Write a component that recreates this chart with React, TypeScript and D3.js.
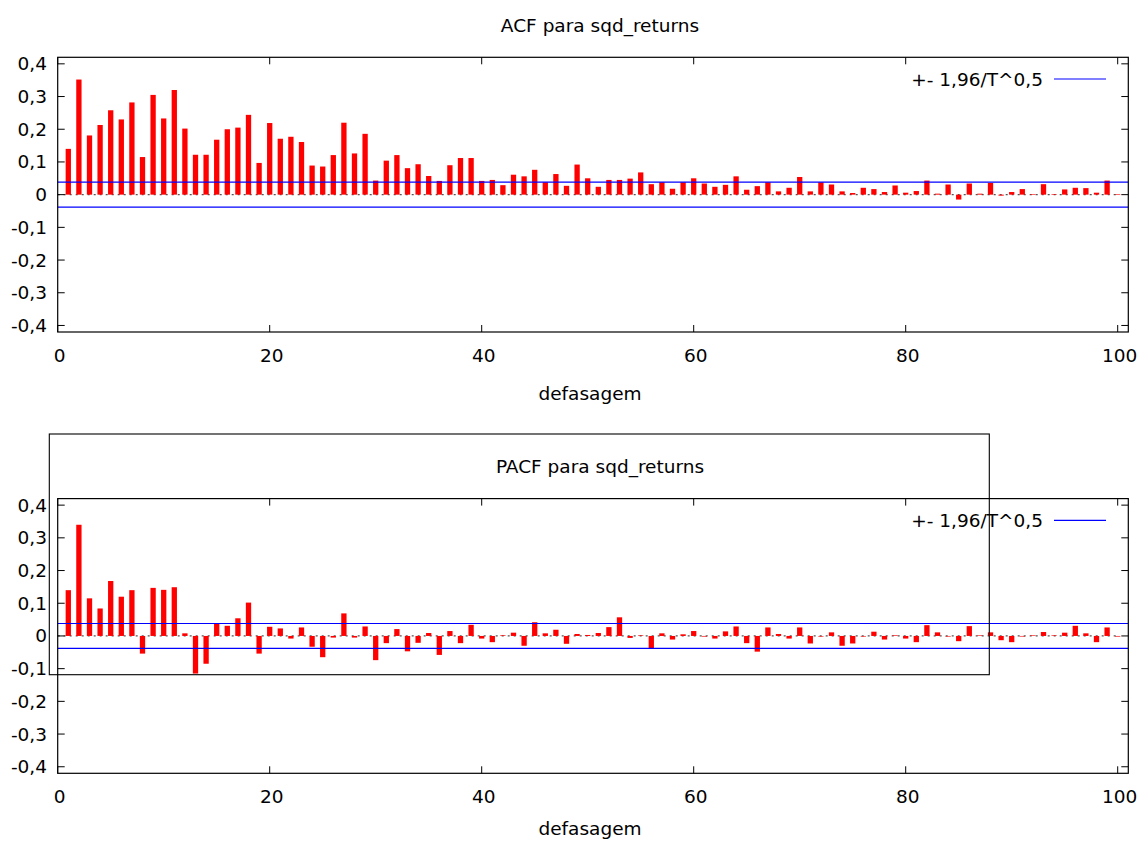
import React from "react";
import * as d3 from "d3";

const lags: number[] = d3.range(1, 101);

const acfValues: number[] = [
  0.140, 0.352, 0.181, 0.213, 0.258, 0.230, 0.282, 0.115, 0.305, 0.233,
  0.320, 0.202, 0.122, 0.122, 0.168, 0.200, 0.205, 0.244, 0.097, 0.219,
  0.171, 0.177, 0.161, 0.089, 0.086, 0.121, 0.220, 0.126, 0.186, 0.043,
  0.104, 0.121, 0.081, 0.093, 0.057, 0.042, 0.090, 0.112, 0.112, 0.042,
  0.045, 0.029, 0.061, 0.056, 0.076, 0.038, 0.063, 0.027, 0.092, 0.050,
  0.024, 0.045, 0.045, 0.049, 0.068, 0.032, 0.038, 0.018, 0.038, 0.050,
  0.034, 0.024, 0.030, 0.056, 0.015, 0.026, 0.038, 0.010, 0.021, 0.054,
  0.010, 0.038, 0.031, 0.010, 0.005, 0.021, 0.017, 0.008, 0.028, 0.006,
  0.011, 0.043, 0.003, 0.031, -0.015, 0.034, 0.003, 0.036, -0.003, 0.008,
  0.017, 0.001, 0.032, 0.001, 0.016, 0.021, 0.020, 0.006, 0.043, 0.001,
];

const pacfValues: number[] = [
  0.140, 0.340, 0.115, 0.084, 0.168, 0.120, 0.140, -0.054, 0.147, 0.141,
  0.149, 0.008, -0.115, -0.085, 0.038, 0.031, 0.054, 0.102, -0.054, 0.028,
  0.023, -0.008, 0.026, -0.033, -0.065, -0.005, 0.069, -0.005, 0.029, -0.074,
  -0.022, 0.021, -0.047, -0.021, 0.009, -0.058, 0.015, -0.022, 0.034, -0.008,
  -0.019, 0.002, 0.010, -0.030, 0.042, 0.008, 0.019, -0.024, 0.006, 0.003,
  0.009, 0.027, 0.057, -0.006, 0.001, -0.037, 0.008, -0.011, 0.005, 0.015,
  -0.002, -0.008, 0.014, 0.029, -0.022, -0.048, 0.026, 0.006, -0.008, 0.026,
  -0.023, -0.001, 0.011, -0.030, -0.023, -0.001, 0.013, -0.011, 0.002, -0.008,
  -0.019, 0.033, 0.011, -0.001, -0.016, 0.030, 0.000, 0.011, -0.013, -0.019,
  -0.001, 0.001, 0.012, 0.000, 0.010, 0.031, 0.008, -0.019, 0.026, -0.002,
];

const yTicks: number[] = [-0.4, -0.3, -0.2, -0.1, 0, 0.1, 0.2, 0.3, 0.4];
const xTicks: number[] = [0, 20, 40, 60, 80, 100];
const bandValue = 0.038;
const legendLabel = "+- 1,96/T^0,5";
const xLabel = "defasagem";
const titles = ["ACF para sqd_returns", "PACF para sqd_returns"];

const W = 1142;
const H = 843;
const FONT = "'DejaVu Sans', Verdana, sans-serif";
const FS = 18.5;

const fmt = (v: number) => {
  if (Math.abs(v) < 1e-9) return "0";
  return d3.format(".1f")(v).replace(".", ",").replace("−", "-");
};

function Panel({ values, top, title, xLabelOffset }: { values: number[]; top: number; title: string; xLabelOffset: number }) {
  const left = 57.7;
  const right = 1128.3;
  const plotTop = top;
  const plotBottom = top + 274.7;
  const x = d3.scaleLinear().domain([0, 101]).range([left, right]);
  const y = d3.scaleLinear().domain([-0.42, 0.42]).range([plotBottom, plotTop]);
  const barW = x(0.5) - x(0);
  const tickLen = 7;
  const legendY = plotTop + 21.7;
  return (
    <g>
      <text x={600} y={plotTop - 32} textAnchor="middle" dominantBaseline="central" fontSize={FS} fill="#000">
        {title}
      </text>
      {/* zero dotted line */}
      <line x1={x(0)} x2={x(100)} y1={y(0)} y2={y(0)} stroke="#555" strokeWidth={1.2} strokeDasharray="2,4" />
      {/* bars */}
      {lags.map((lag, i) => {
        const v = values[i];
        const yTop = y(Math.max(0, v));
        const yBot = y(Math.min(0, v));
        const h = Math.max(yBot - yTop, 0.6);
        return <rect key={lag} x={x(lag) - barW / 2} y={v >= 0 ? yBot - h : yTop} width={barW} height={h} fill="#ff0000" />;
      })}
      {/* confidence band */}
      <line x1={left} x2={right} y1={y(bandValue)} y2={y(bandValue)} stroke="#0000ff" strokeWidth={1.2} />
      <line x1={left} x2={right} y1={y(-bandValue)} y2={y(-bandValue)} stroke="#0000ff" strokeWidth={1.2} />
      {/* frame */}
      <rect x={left} y={plotTop} width={right - left} height={plotBottom - plotTop} fill="none" stroke="#000" strokeWidth={1.2} />
      {/* y ticks */}
      {yTicks.map((t) => (
        <g key={t}>
          <line x1={left} x2={left + tickLen} y1={y(t)} y2={y(t)} stroke="#000" />
          <line x1={right} x2={right - tickLen} y1={y(t)} y2={y(t)} stroke="#000" />
          <text x={47} y={y(t)} textAnchor="end" dominantBaseline="central" fontSize={FS} fill="#000">
            {fmt(t)}
          </text>
        </g>
      ))}
      {/* x ticks */}
      {xTicks.map((t) => (
        <g key={t}>
          <line x1={x(t)} x2={x(t)} y1={plotBottom} y2={plotBottom - tickLen} stroke="#000" />
          <line x1={x(t)} x2={x(t)} y1={plotTop} y2={plotTop + tickLen} stroke="#000" />
          <text x={x(t) + 2} y={plotBottom + 23} textAnchor="middle" dominantBaseline="central" fontSize={FS} fill="#000">
            {t}
          </text>
        </g>
      ))}
      <text x={590} y={plotBottom + xLabelOffset} textAnchor="middle" dominantBaseline="central" fontSize={FS} fill="#000">
        {xLabel}
      </text>
      {/* legend */}
      <text x={1043} y={legendY} textAnchor="end" dominantBaseline="central" fontSize={FS} fill="#000">
        {legendLabel}
      </text>
      <line x1={1054} x2={1106} y1={legendY} y2={legendY} stroke="#0000ff" strokeWidth={1.2} />
    </g>
  );
}

export default function App() {
  return (
    <svg
      width={W}
      height={H}
      style={{ position: "absolute", left: 0, top: 0, background: "#fff", fontFamily: FONT }}
    >
      <rect x={0} y={0} width={W} height={H} fill="#fff" />
      <Panel values={acfValues} top={57.3} title={titles[0]} xLabelOffset={61} />
      <Panel values={pacfValues} top={498.6} title={titles[1]} xLabelOffset={55} />
      <rect x={49.3} y={434} width={940} height={240.7} fill="none" stroke="#000" strokeWidth={1.1} />
    </svg>
  );
}
